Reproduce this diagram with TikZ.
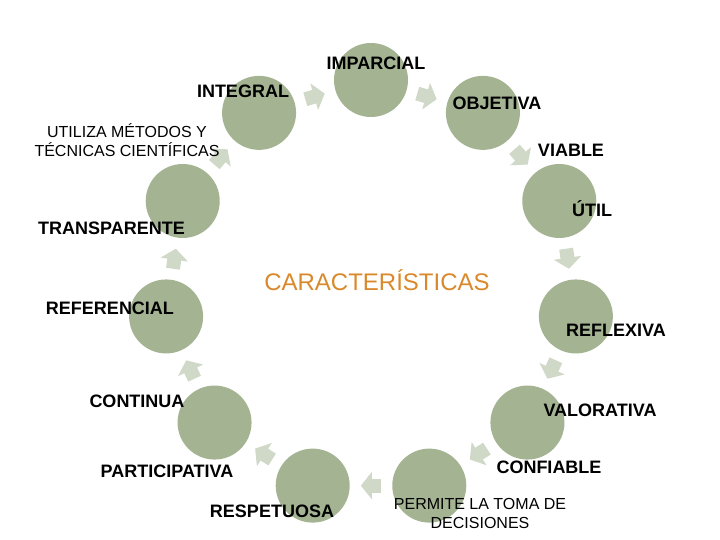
\documentclass[tikz,border=0pt]{standalone}
\usepackage{fontspec}
\setmainfont{Liberation Sans}
\usetikzlibrary{arrows.meta}
\definecolor{circulocolor}{RGB}{164,179,146}
\definecolor{flechacolor}{RGB}{208,216,200}
\definecolor{titulocolor}{RGB}{217,137,43}
\tikzset{
  circulo/.style={circle, fill=circulocolor, minimum size=74pt, inner sep=0pt},
  flecha/.style={draw=flechacolor, line width=14pt, shorten <=11pt, shorten >=11pt,
    -{Triangle[width=27pt,length=11pt]}},
  etiqueta/.style={font=\fontsize{18}{22}\selectfont\bfseries, anchor=base, inner sep=0pt},
  nota/.style={font=\fontsize{16}{19}\selectfont, align=center, inner sep=0pt}
}
\begin{document}
\begin{tikzpicture}[x=1pt,y=1pt]
      \useasboundingbox (-371,-253) rectangle (349,287);
      \draw
        (90.00:207) node[circulo] (0){}
        (57.27:207) node[circulo] (1){}
        (24.55:207) node[circulo] (2){}
        (-8.18:207) node[circulo] (3){}
        (-40.91:207) node[circulo] (4){}
        (-73.64:207) node[circulo] (5){}
        (-106.36:207) node[circulo] (6){}
        (-139.09:207) node[circulo] (7){}
        (-171.82:207) node[circulo] (8){}
        (155.45:207) node[circulo] (9){}
        (122.73:207) node[circulo] (10){};
      \begin{scope}[flecha]
        \draw (10) to (0);
        \draw (0) to (1);
        \draw (1) to (2);
        \draw (2) to (3);
        \draw (3) to (4);
        \draw (4) to (5);
        \draw (5) to (6);
        \draw (6) to (7);
        \draw (7) to (8);
        \draw (8) to (9);
        \draw (9) to (10);
      \end{scope}
      % etiquetas
      \node[etiqueta] (imparcial) at (5,217) {IMPARCIAL};
      \node[etiqueta] (objetiva) at (126,177) {OBJETIVA};
      \node[etiqueta] (viable) at (200,130) {VIABLE};
      \node[etiqueta] (util) at (221,70) {ÚTIL};
      \node[etiqueta] (reflexiva) at (245,-50) {REFLEXIVA};
      \node[etiqueta] (valorativa) at (229,-130) {VALORATIVA};
      \node[etiqueta] (confiable) at (178,-186) {CONFIABLE};
      \node[nota] (permite) at (109,-226) {PERMITE LA TOMA DE\\DECISIONES};
      \node[etiqueta] (respetuosa) at (-99,-230) {RESPETUOSA};
      \node[etiqueta] (participativa) at (-204,-191) {PARTICIPATIVA};
      \node[etiqueta] (continua) at (-234,-121) {CONTINUA};
      \node[etiqueta] (referencial) at (-261,-28) {REFERENCIAL};
      \node[etiqueta] (transparente) at (-259.5,52) {TRANSPARENTE};
      \node[nota] (utiliza) at (-244,147) {UTILIZA MÉTODOS Y\\TÉCNICAS CIENTÍFICAS};
      \node[etiqueta] (integral) at (-128,189) {INTEGRAL};
      \node[font=\fontsize{24}{29}\selectfont, text=titulocolor, anchor=base, inner sep=0pt]
        (caracteristicas) at (6,-4) {CARACTERÍSTICAS};
    \end{tikzpicture}
\end{document}
